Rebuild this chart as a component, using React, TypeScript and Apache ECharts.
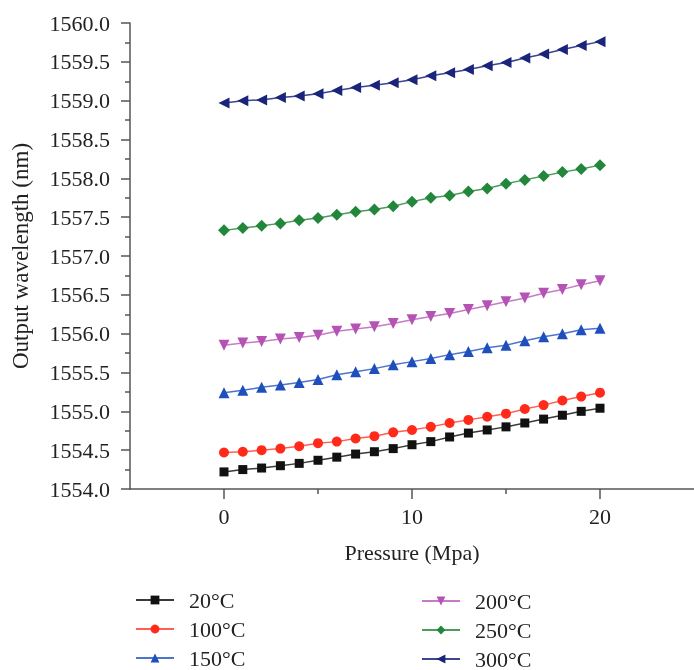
import React, { useEffect, useRef } from "react";
import * as echarts from "echarts";

const pressure = [0, 1, 2, 3, 4, 5, 6, 7, 8, 9, 10, 11, 12, 13, 14, 15, 16, 17, 18, 19, 20];

const t20 = [1554.22, 1554.25, 1554.27, 1554.30, 1554.33, 1554.37, 1554.41, 1554.45, 1554.48, 1554.52, 1554.57, 1554.61, 1554.67, 1554.72, 1554.76, 1554.80, 1554.85, 1554.90, 1554.95, 1555.00, 1555.04];
const t100 = [1554.47, 1554.48, 1554.50, 1554.52, 1554.55, 1554.59, 1554.61, 1554.65, 1554.68, 1554.73, 1554.76, 1554.80, 1554.85, 1554.89, 1554.93, 1554.97, 1555.03, 1555.08, 1555.14, 1555.19, 1555.24];
const t150 = [1555.24, 1555.27, 1555.31, 1555.34, 1555.37, 1555.41, 1555.47, 1555.51, 1555.55, 1555.60, 1555.64, 1555.68, 1555.73, 1555.77, 1555.82, 1555.85, 1555.91, 1555.96, 1556.00, 1556.05, 1556.07];
const t200 = [1555.85, 1555.88, 1555.90, 1555.93, 1555.95, 1555.98, 1556.03, 1556.06, 1556.09, 1556.13, 1556.18, 1556.22, 1556.26, 1556.31, 1556.36, 1556.41, 1556.46, 1556.52, 1556.57, 1556.63, 1556.68];
const t250 = [1557.33, 1557.36, 1557.39, 1557.42, 1557.46, 1557.49, 1557.53, 1557.57, 1557.60, 1557.64, 1557.70, 1557.75, 1557.78, 1557.83, 1557.87, 1557.93, 1557.98, 1558.03, 1558.08, 1558.12, 1558.17];
const t300 = [1558.97, 1559.00, 1559.01, 1559.04, 1559.06, 1559.09, 1559.13, 1559.17, 1559.20, 1559.23, 1559.27, 1559.32, 1559.36, 1559.40, 1559.45, 1559.49, 1559.55, 1559.60, 1559.66, 1559.71, 1559.76];

const seriesNames = ["20°C", "100°C", "150°C", "200°C", "250°C", "300°C"];
const xMajorTicks = [0, 10, 20];
const xMinorTicks = [5, 15];

const FONT = "Liberation Serif";

export default function App() {
  const ref = useRef<HTMLDivElement>(null);

  useEffect(() => {
    if (!ref.current) return;
    const chart = echarts.init(ref.current, null, { renderer: "svg" });

    const defs = [
      { name: seriesNames[0], data: t20, symbol: "rect", size: 9, rot: 0, color: "#111111", line: "#3a3a3a" },
      { name: seriesNames[1], data: t100, symbol: "circle", size: 10, rot: 0, color: "#ff2a1a", line: "#ff5e50" },
      { name: seriesNames[2], data: t150, symbol: "triangle", size: 11, rot: 0, color: "#1f4fbd", line: "#4c74cc" },
      { name: seriesNames[3], data: t200, symbol: "triangle", size: 11, rot: 180, color: "#b453b4", line: "#c87ac8" },
      { name: seriesNames[4], data: t250, symbol: "diamond", size: 12, rot: 0, color: "#23873b", line: "#4a9b5d" },
      { name: seriesNames[5], data: t300, symbol: "triangle", size: 11, rot: 90, color: "#19247a", line: "#3b4590" },
    ];

    const series = defs.map((d) => ({
      name: d.name,
      type: "line",
      data: pressure.map((p, i) => [p, d.data[i]]),
      symbol: d.symbol,
      symbolSize: d.size,
      symbolRotate: d.rot,
      showSymbol: true,
      itemStyle: { color: d.color },
      lineStyle: { color: d.line, width: 1.5 },
      emphasis: { disabled: true },
    }));

    const legendCommon = {
      orient: "vertical",
      itemWidth: 38,
      itemHeight: 11,
      itemGap: 7,
      height: 140,
      textStyle: { fontFamily: FONT, fontSize: 22, color: "#222", lineHeight: 22, padding: [0, 0, 0, 10] },
      selectedMode: false,
    };

    chart.setOption({
      animation: false,
      textStyle: { fontFamily: FONT },
      grid: { left: 130, right: -10, top: 23, bottom: 181, containLabel: false },
      legend: [
        { ...legendCommon, left: 130, top: 584, data: seriesNames.slice(0, 3) },
        { ...legendCommon, left: 416, top: 585, data: seriesNames.slice(3, 6) },
      ],
      xAxis: [
        {
          type: "value",
          min: -5,
          max: 25,
          interval: 5,
          name: "Pressure (Mpa)",
          nameLocation: "middle",
          nameGap: 52,
          nameTextStyle: { fontFamily: FONT, fontSize: 22, color: "#222" },
          axisLine: { show: true, onZero: false, lineStyle: { color: "#555", width: 1.5 } },
          axisTick: { show: true, length: 10, customValues: xMajorTicks, lineStyle: { color: "#555", width: 1.5 } },
          axisLabel: { customValues: xMajorTicks, margin: 16, fontFamily: FONT, fontSize: 22, color: "#222" },
          splitLine: { show: false },
        },
        {
          type: "value",
          min: -5,
          max: 25,
          interval: 5,
          position: "bottom",
          axisLine: { show: false, onZero: false },
          axisTick: { show: true, length: 5, customValues: xMinorTicks, lineStyle: { color: "#555", width: 1.5 } },
          axisLabel: { show: false },
          splitLine: { show: false },
        },
      ],
      yAxis: {
        type: "value",
        min: 1554,
        max: 1560,
        interval: 0.5,
        name: "Output wavelength (nm)",
        nameLocation: "middle",
        nameGap: 98,
        nameTextStyle: { fontFamily: FONT, fontSize: 23, color: "#222" },
        axisLine: { show: true, onZero: false, lineStyle: { color: "#555", width: 1.5 } },
        axisTick: { show: true, length: 9, lineStyle: { color: "#555", width: 1.5 } },
        minorTick: { show: true, splitNumber: 2, length: 5, lineStyle: { color: "#555", width: 1.5 } },
        axisLabel: {
          margin: 20,
          fontFamily: FONT,
          fontSize: 22,
          color: "#222",
          formatter: (v: number) => v.toFixed(1),
        },
        splitLine: { show: false },
      },
      series,
    });

    return () => chart.dispose();
  }, []);

  return <div ref={ref} style={{ position: "fixed", left: 0, top: 0, width: 694, height: 670 }} />;
}
